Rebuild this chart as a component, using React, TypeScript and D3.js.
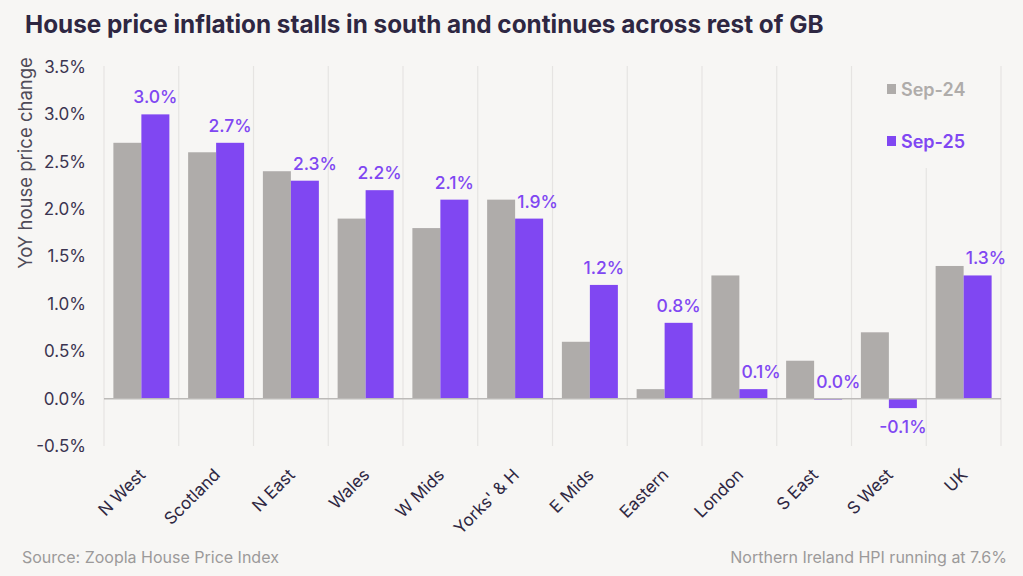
import React from 'react';
import * as d3 from 'd3';

const regions = ["N West", "Scotland", "N East", "Wales", "W Mids", "Yorks' & H", "E Mids", "Eastern", "London", "S East", "S West", "UK"];
const sep24 = [2.7, 2.6, 2.4, 1.9, 1.8, 2.1, 0.6, 0.1, 1.3, 0.4, 0.7, 1.4];
const sep25 = [3.0, 2.7, 2.3, 2.2, 2.1, 1.9, 1.2, 0.8, 0.1, 0.0, -0.1, 1.3];
const seriesNames = ["Sep-24", "Sep-25"];
const yTicks = [-0.5, 0, 0.5, 1.0, 1.5, 2.0, 2.5, 3.0, 3.5];

const W = 1023;
const H = 576;
const BG = '#f7f6f4';
const GREY = '#afacaa';
const PURPLE = '#8047f2';
const DARK = '#2e2742';
const FONT = 'Inter, "Open Sans", sans-serif';

const App: React.FC = () => {
    const x = d3.scaleBand<string>().domain(regions).range([104, 1001]).paddingInner(0).paddingOuter(0);
    const x1 = d3.scaleBand<string>().domain(seriesNames).range([0, x.bandwidth()]).paddingInner(0).paddingOuter(0.335);
    const y = d3.scaleLinear().domain([-0.5, 3.5]).range([446, 67]);
    const fmt = (v: number) => v.toFixed(1) + '%';
    const gridXs = regions.map(r => x(r)!).concat([x.range()[1]]);

    return (
        <svg width={W} height={H} style={{ position: 'absolute', left: 0, top: 0, background: BG, fontFamily: FONT }}>
            <rect width={W} height={H} fill={BG} />
            <text x={25} y={33} fontSize={24.3} fontWeight={700} fill={DARK}>
                House price inflation stalls in south and continues across rest of GB
            </text>

            {/* vertical grid at category boundaries */}
            {gridXs.map((gx, i) => (
                <line key={i} x1={gx} x2={gx} y1={66} y2={446} stroke="#e6e4e2" strokeWidth={1.2} />
            ))}

            {/* legend box hides grid behind it */}
            <rect x={878} y={62} width={112} height={106} fill={BG} />
            {seriesNames.map((s, i) => (
                <g key={s} transform={`translate(887,${89 + i * 52})`}>
                    <rect x={0} y={-5} width={9} height={10} fill={i === 0 ? GREY : PURPLE} />
                    <text x={14} y={6.5} fontSize={18} fontWeight={600} fill={i === 0 ? GREY : PURPLE}>{s}</text>
                </g>
            ))}

            {/* y ticks */}
            {yTicks.map(t => (
                <text key={t} x={86} y={y(t)} dy="0.35em" textAnchor="end" fontSize={17} fill="#3b3450">{fmt(t)}</text>
            ))}
            <text transform={`translate(32,${163}) rotate(-90)`} textAnchor="middle" fontSize={18.5} fill="#4f4b58">
                YoY house price change
            </text>

            {/* bars */}
            {regions.map((r, i) => {
                const bx = x(r)!;
                const v0 = sep24[i];
                const v1 = sep25[i];
                const gx = bx + x1("Sep-24")!;
                const px = bx + x1("Sep-25")!;
                const bw = x1.bandwidth();
                let lx = px + bw / 2;
                let anchor = 'middle';
                const ly = v1 >= 0 ? y(v1) - 11 : y(v1) + 25;
                if (v1 >= 0 && v0 > v1) {
                    lx = px + 2;
                    anchor = 'start';
                }
                return (
                    <g key={r}>
                        <rect x={gx} y={y(Math.max(0, v0))} width={bw} height={Math.abs(y(v0) - y(0))} fill={GREY} />
                        <rect x={px} y={y(Math.max(0, v1))} width={bw} height={Math.max(1, Math.abs(y(v1) - y(0)))} fill={PURPLE} />
                        <text x={lx} y={ly} textAnchor={anchor} fontSize={17.5} fontWeight={500} fill={PURPLE}>{fmt(v1)}</text>
                    </g>
                );
            })}

            <line x1={104} x2={1001} y1={y(0)} y2={y(0)} stroke="#bcbab8" strokeWidth={1.5} />

            {/* x labels */}
            {regions.map(r => (
                <text key={r} transform={`translate(${x(r)! + x.bandwidth() / 2 + 5},476) rotate(-45)`}
                    textAnchor="end" fontSize={17} fill={DARK}>{r}</text>
            ))}

            <text x={22} y={563} fontSize={16} fill="#9c9a9a">Source: Zoopla House Price Index</text>
            <text x={1007} y={563} textAnchor="end" fontSize={16} fill="#9c9a9a">Northern Ireland HPI running at 7.6%</text>
        </svg>
    );
};

export default App;
